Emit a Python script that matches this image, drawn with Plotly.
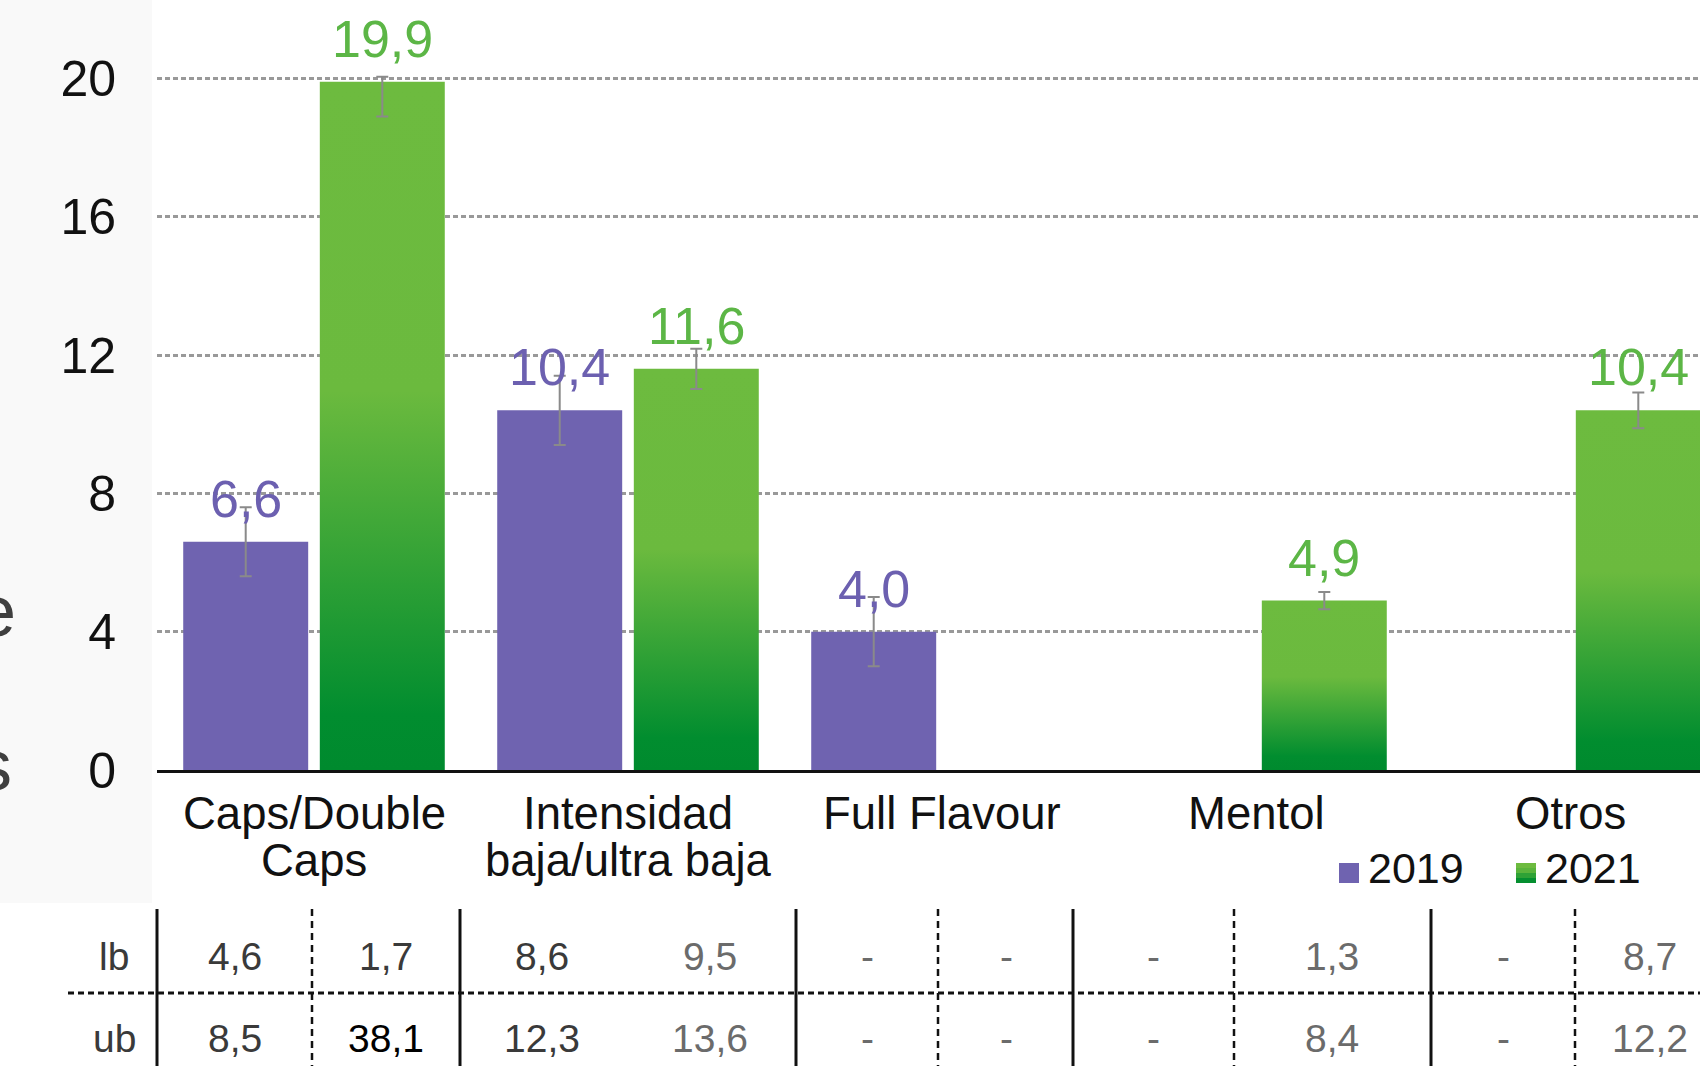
import plotly.graph_objects as go

# ── Data ─────────────────────────────────────────────────────────
categories = ["Caps/Double\nCaps", "Intensidad\nbaja/ultra baja", "Full Flavour", "Mentol", "Otros"]
val_2019 = [6.6, 10.4, 4.0, None, None]
val_2021 = [19.9, 11.6, None, 4.9, 10.4]
err_2019 = [1.0, 1.0, 1.0, None, None]
err_2021_up = [0.15, 0.58, None, 0.25, 0.52]
err_2021_down = [1.0, 0.58, None, 0.25, 0.52]
y_ticks = [0, 4, 8, 12, 16, 20]
series_names = ["2019", "2021"]
row_labels = ["lb", "ub"]
lb_values = ["4,6", "1,7", "8,6", "9,5", "-", "-", "-", "1,3", "-", "8,7"]
ub_values = ["8,5", "38,1", "12,3", "13,6", "-", "-", "-", "8,4", "-", "12,2"]

# ── Style ────────────────────────────────────────────────────────
FONT = "Liberation Sans, Arial, sans-serif"
PURPLE = "#6f63b0"
PURPLE_TXT = "#6c60b0"
GREEN_TXT = "#5cb646"
GREEN_SCALE = [[0, "#008a2e"], [0.08, "#018d2f"], [0.55, "#6bba3e"], [1, "#6dbb3f"]]
ERR = "#8a8a8a"

W, H = 1700, 1066
L, B = 157, 296                      # plot area: x 157..1700, y 0..770
PW, PH = W - L, H - B
bargap = 0.13
off = (1 - bargap) / 4               # bar centre offset from category
bar_w = 0.398


def px_x(px):
    return (px - L) / PW


def px_y(py):
    return (PH - py) / PH


def fmt(v):
    return f"{v:.1f}".replace(".", ",")


idx = list(range(len(categories)))
fig = go.Figure()

# 2019 bars
fig.add_trace(go.Bar(
    x=[i - off for i in idx], y=val_2019, width=bar_w, name=series_names[0],
    marker=dict(color=PURPLE, line=dict(width=0)),
    error_y=dict(type="data", array=err_2019, color=ERR, thickness=2, width=6),
))

# 2021 bars (gradient fill, one trace per bar so each gets its own gradient)
for i, v in zip(idx, val_2021):
    if v is None:
        continue
    cx = i + off
    fig.add_trace(go.Scatter(
        x=[cx - bar_w / 2, cx - bar_w / 2, cx + bar_w / 2, cx + bar_w / 2, cx - bar_w / 2],
        y=[0, v, v, 0, 0], mode="lines", line=dict(width=0), fill="toself",
        fillgradient=dict(type="vertical", colorscale=GREEN_SCALE),
        showlegend=False, hoverinfo="skip",
    ))

# 2021 error bars on top of the gradient bars
fig.add_trace(go.Scatter(
    x=[i + off for i in idx], y=val_2021, mode="markers", name=series_names[1],
    marker=dict(size=1, opacity=0),
    error_y=dict(type="data", symmetric=False, array=err_2021_up,
                 arrayminus=err_2021_down, color=ERR, thickness=2, width=6),
))

ann = []
# value labels
for vals, sign, col in ((val_2019, -1, PURPLE_TXT), (val_2021, 1, GREEN_TXT)):
    for i, v in zip(idx, vals):
        if v is None:
            continue
        ann.append(dict(x=i + sign * off, y=v, xref="x", yref="y", text=fmt(v),
                        yshift=43, xanchor="center", yanchor="middle", showarrow=False,
                        font=dict(size=52, color=col, family=FONT)))

# category labels (two lines, tight spacing)
for i, name in enumerate(categories):
    for j, line in enumerate(name.split("\n")):
        ann.append(dict(x=i, y=px_y(813 + 47 * j), xref="x", yref="paper", text=line,
                        showarrow=False, xanchor="center", yanchor="middle",
                        font=dict(size=45.5, color="#111111", family=FONT)))

# legend
for name, lx in zip(series_names, [1366, 1543]):
    ann.append(dict(x=px_x(lx), y=px_y(868), xref="paper", yref="paper", text=name,
                    xanchor="left", yanchor="middle", showarrow=False,
                    font=dict(size=43, color="#111111", family=FONT)))

# cropped left-hand title fragments
ann.append(dict(x=px_x(18), y=px_y(611), xref="paper", yref="paper", text="e",
                xanchor="right", yanchor="middle", showarrow=False,
                font=dict(size=72, color="#3f3f3f", family=FONT)))
ann.append(dict(x=px_x(14), y=px_y(765), xref="paper", yref="paper", text="s",
                xanchor="right", yanchor="middle", showarrow=False,
                font=dict(size=72, color="#3f3f3f", family=FONT)))

# table below the chart
col_x = [235, 386, 542, 710, 867, 1006, 1153, 1332, 1503, 1650]
row_y = [956, 1038]
dark_cols = {0, 1, 2}
for r, (lab, vals) in enumerate(zip(row_labels, [lb_values, ub_values])):
    ann.append(dict(x=px_x(114), y=px_y(row_y[r]), xref="paper", yref="paper", text=lab,
                    showarrow=False, xanchor="center", yanchor="middle",
                    font=dict(size=39, color="#3a3a3a", family=FONT)))
    for c, txt in enumerate(vals):
        color = "#3a3a3a" if c in dark_cols else "#6b6b6b"
        if (r, c) == (1, 1):
            color = "#000000"
        ann.append(dict(x=px_x(col_x[c]), y=px_y(row_y[r]), xref="paper", yref="paper",
                        text=txt, showarrow=False, xanchor="center", yanchor="middle",
                        font=dict(size=39, color=color, family=FONT)))

shapes = [
    # faint grey panel on the left
    dict(type="rect", xref="paper", yref="paper", x0=px_x(0), x1=px_x(152),
         y0=px_y(903), y1=px_y(0), fillcolor="#f9f9f9", line=dict(width=0), layer="below"),
    # legend swatches
    dict(type="rect", xref="paper", yref="paper", x0=px_x(1339), x1=px_x(1359),
         y0=px_y(883), y1=px_y(863), fillcolor=PURPLE, line=dict(width=0)),
]
for k, c in enumerate(["#6dbb3f", "#5ab43c", "#2ea236", "#058f30"]):
    shapes.append(dict(type="rect", xref="paper", yref="paper", x0=px_x(1516), x1=px_x(1536),
                       y0=px_y(868 + 5 * k), y1=px_y(863 + 5 * k), fillcolor=c, line=dict(width=0)))
for xs in [157, 460, 796, 1073, 1431]:
    shapes.append(dict(type="line", xref="paper", yref="paper", x0=px_x(xs), x1=px_x(xs),
                       y0=px_y(909), y1=px_y(1066), line=dict(color="#111111", width=3)))
for xs in [312, 938, 1234, 1575]:
    shapes.append(dict(type="line", xref="paper", yref="paper", x0=px_x(xs), x1=px_x(xs),
                       y0=px_y(909), y1=px_y(1066),
                       line=dict(color="#111111", width=2.5, dash="7px,5px")))
shapes.append(dict(type="line", xref="paper", yref="paper", x0=px_x(68), x1=px_x(1700),
                   y0=px_y(993), y1=px_y(993), line=dict(color="#111111", width=3, dash="6px,4px")))

fig.update_layout(
    width=W, height=H, margin=dict(l=L, r=0, t=0, b=B),
    paper_bgcolor="white", plot_bgcolor="rgba(0,0,0,0)",
    showlegend=False, annotations=ann, shapes=shapes,
    font=dict(family=FONT),
)
fig.update_xaxes(range=[-0.5, -0.5 + PW / 314], showticklabels=False, showgrid=False,
                 zeroline=False, showline=True, linecolor="#111111", linewidth=3, ticks="")
fig.update_yaxes(range=[0, PH / 34.58], tickvals=y_ticks, ticks="", ticklabelstandoff=40,
                 tickfont=dict(size=50, color="#111111", family=FONT),
                 showgrid=True, gridcolor="#999999", gridwidth=2.5, griddash="5px,3px",
                 zeroline=False, showline=False)

# page has a default 8px body margin; drop it so the figure fills the window exactly
fig.write_html("out.html", config={"displayModeBar": False},
               post_script="document.body.style.margin='0';")
